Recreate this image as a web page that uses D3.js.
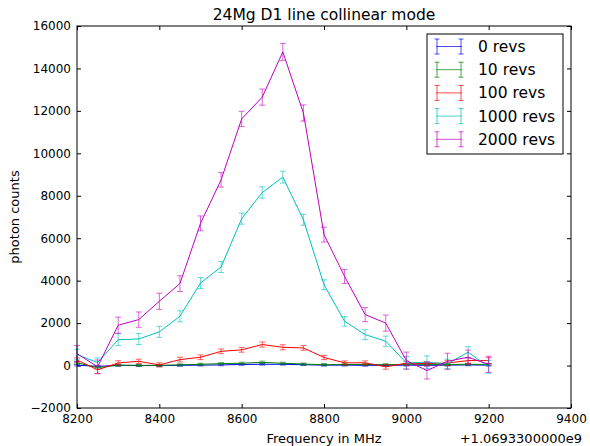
<!DOCTYPE html>
<html>
<head>
<meta charset="utf-8">
<script src="https://d3js.org/d3.v7.min.js"></script>
<style>
  body { margin: 0; background: #fff; }
  text { font-family: "DejaVu Sans", sans-serif; fill: #000; }
</style>
</head>
<body>
<script>
// frequencies (offset from 1.0693300000e9 MHz)
var freqs = [8200, 8250, 8300, 8350, 8400, 8450, 8500, 8550, 8600, 8650, 8700,
             8750, 8800, 8850, 8900, 8950, 9000, 9050, 9100, 9150, 9200];

var seriesNames = ["0 revs", "10 revs", "100 revs", "1000 revs", "2000 revs"];
var seriesColors = ["#0000ff", "#008000", "#ff0000", "#00bfbf", "#bf00bf"];

var revs0 = [20, -40, 10, 0, 0, 10, 20, 30, 50, 60, 60, 40, 20, 20, 10, 10, 20, 10, 20, 30, 20];
var err0 = [40, 40, 40, 40, 40, 40, 40, 40, 40, 40, 40, 40, 40, 40, 40, 40, 40, 40, 40, 40, 40];

var revs10 = [130, -100, 20, 10, 10, 30, 60, 90, 110, 150, 110, 70, 40, 50, 50, 40, 60, 60, 50, 60, 50];
var err10 = [60, 60, 50, 50, 50, 50, 50, 50, 50, 60, 50, 50, 50, 50, 50, 50, 50, 50, 50, 50, 50];

var revs100 = [260, -200, 125, 200, 30, 280, 390, 670, 740, 990, 860, 830, 380, 130, 130, -60, 110, 90, 120, 235, 235];
var err100 = [100, 180, 100, 100, 100, 110, 110, 110, 110, 120, 120, 110, 100, 90, 90, 110, 100, 90, 110, 130, 140];

var revs1000 = [520, 140, 1220, 1250, 1590, 2320, 3890, 4645, 6920, 8155, 8880, 6870, 3810, 2085, 1460, 1145, 125, 155, 80, 630, -60];
var err1000 = [250, 220, 280, 260, 260, 260, 260, 260, 260, 270, 280, 260, 230, 230, 230, 240, 300, 300, 220, 260, 300];

var revs2000 = [565, -60, 1900, 2165, 3030, 3860, 6700, 8750, 11620, 12650, 14780, 11900, 6170, 4200, 2400, 2000, 235, -235, 200, 390, 60];
var err2000 = [380, 320, 380, 360, 380, 370, 350, 340, 360, 380, 400, 380, 350, 330, 330, 380, 400, 400, 380, 340, 380];

var seriesValues = [revs0, revs10, revs100, revs1000, revs2000];
var seriesErrors = [err0, err10, err100, err1000, err2000];

var xTicks = [8200, 8400, 8600, 8800, 9000, 9200, 9400];
var yTicks = [-2000, 0, 2000, 4000, 6000, 8000, 10000, 12000, 14000, 16000];

var width = 590, height = 446;
var plot = {left: 77, right: 571, top: 26, bottom: 408};

var svg = d3.select("body").append("svg")
    .attr("width", width)
    .attr("height", height);

// scales
var xScale = d3.scaleLinear().domain([8200, 9400]).range([plot.left, plot.right]);
var yScale = d3.scaleLinear().domain([-2000, 16000]).range([plot.bottom, plot.top]);

// axes: ticks pointing inwards, on all four sides
var tickLen = 4;
svg.append("g")
    .attr("transform", "translate(0," + plot.bottom + ")")
    .call(d3.axisBottom(xScale).tickValues(xTicks).tickSizeInner(-tickLen).tickSizeOuter(0).tickPadding(6).tickFormat(d3.format("d")))
    .call(function(g) { g.select(".domain").remove(); })
    .selectAll("text").style("font-size", "12px").attr("fill", "#000");
svg.append("g")
    .attr("transform", "translate(0," + plot.top + ")")
    .call(d3.axisTop(xScale).tickValues(xTicks).tickSizeInner(-tickLen).tickSizeOuter(0).tickFormat(""))
    .call(function(g) { g.select(".domain").remove(); });
svg.append("g")
    .attr("transform", "translate(" + plot.left + ",0)")
    .call(d3.axisLeft(yScale).tickValues(yTicks).tickSizeInner(-tickLen).tickSizeOuter(0).tickPadding(6).tickFormat(function(d) { return d < 0 ? "\u2212" + Math.abs(d) : d; }))
    .call(function(g) { g.select(".domain").remove(); })
    .selectAll("text").style("font-size", "12px").attr("fill", "#000");
svg.append("g")
    .attr("transform", "translate(" + plot.right + ",0)")
    .call(d3.axisRight(yScale).tickValues(yTicks).tickSizeInner(-tickLen).tickSizeOuter(0).tickFormat(""))
    .call(function(g) { g.select(".domain").remove(); });
svg.selectAll(".tick line").attr("stroke", "#000");
svg.selectAll(".tick text").style("font-family", "DejaVu Sans");

// data layers
var line = d3.line()
    .x(function(d) { return xScale(d.f); })
    .y(function(d) { return yScale(d.v); });

var capW = 3;
seriesValues.forEach(function(vals, i) {
    var pts = freqs.map(function(f, j) { return {f: f, v: vals[j], e: seriesErrors[i][j]}; });
    var g = svg.append("g").attr("class", "series");
    var color = seriesColors[i];

    // error bars
    var eb = g.selectAll(".eb").data(pts).enter().append("g")
        .attr("stroke", color).attr("stroke-opacity", 0.6).attr("stroke-width", 1);
    eb.append("line")
        .attr("x1", function(d) { return xScale(d.f); })
        .attr("x2", function(d) { return xScale(d.f); })
        .attr("y1", function(d) { return yScale(d.v - d.e); })
        .attr("y2", function(d) { return yScale(d.v + d.e); });
    eb.append("line")
        .attr("x1", function(d) { return xScale(d.f) - capW; })
        .attr("x2", function(d) { return xScale(d.f) + capW; })
        .attr("y1", function(d) { return yScale(d.v - d.e); })
        .attr("y2", function(d) { return yScale(d.v - d.e); });
    eb.append("line")
        .attr("x1", function(d) { return xScale(d.f) - capW; })
        .attr("x2", function(d) { return xScale(d.f) + capW; })
        .attr("y1", function(d) { return yScale(d.v + d.e); })
        .attr("y2", function(d) { return yScale(d.v + d.e); });

    g.append("path")
        .datum(pts)
        .attr("fill", "none")
        .attr("stroke", color)
        .attr("stroke-width", 1)
        .attr("d", line);
});

// frame
svg.append("rect")
    .attr("x", plot.left).attr("y", plot.top)
    .attr("width", plot.right - plot.left).attr("height", plot.bottom - plot.top)
    .attr("fill", "none").attr("stroke", "#000").attr("stroke-width", 1);

// title and labels
svg.append("text")
    .attr("x", (plot.left + plot.right) / 2).attr("y", 20)
    .attr("text-anchor", "middle").style("font-size", "15.5px")
    .text("24Mg D1 line collinear mode");
svg.append("text")
    .attr("x", (plot.left + plot.right) / 2).attr("y", 443)
    .attr("text-anchor", "middle").style("font-size", "13px")
    .text("Frequency in MHz");
svg.append("text")
    .attr("transform", "translate(19," + ((plot.top + plot.bottom) / 2) + ") rotate(-90)")
    .attr("text-anchor", "middle").style("font-size", "13px")
    .text("photon counts");
svg.append("text")
    .attr("x", 582).attr("y", 443)
    .attr("text-anchor", "end").style("font-size", "13px")
    .text("+1.0693300000e9");

// legend
var legend = svg.append("g");
legend.append("rect")
    .attr("x", 427).attr("y", 34).attr("width", 136).attr("height", 120)
    .attr("fill", "#fff").attr("stroke", "#000").attr("stroke-width", 1);
seriesNames.forEach(function(name, i) {
    var cy = 46.5 + i * 23.2;
    var lg = legend.append("g").attr("stroke", seriesColors[i]).attr("stroke-opacity", 0.7);
    lg.append("line").attr("x1", 436).attr("x2", 462).attr("y1", cy).attr("y2", cy);
    [437, 461].forEach(function(x) {
        lg.append("line").attr("x1", x).attr("x2", x).attr("y1", cy - 7.5).attr("y2", cy + 7.5);
        lg.append("line").attr("x1", x - 2.5).attr("x2", x + 2.5).attr("y1", cy - 7.5).attr("y2", cy - 7.5);
        lg.append("line").attr("x1", x - 2.5).attr("x2", x + 2.5).attr("y1", cy + 7.5).attr("y2", cy + 7.5);
    });
    legend.append("text")
        .attr("x", 478).attr("y", cy + 5.5)
        .style("font-size", "15.5px")
        .text(name);
});
</script>
</body>
</html>
